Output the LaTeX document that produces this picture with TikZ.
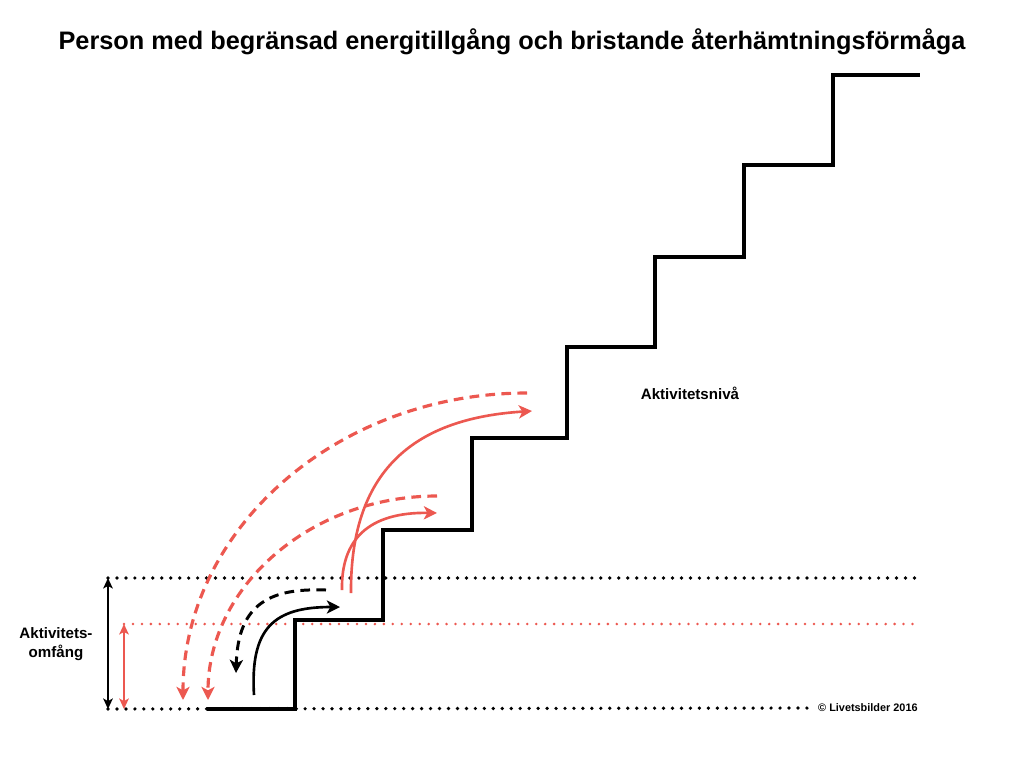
\documentclass[tikz,border=0pt]{standalone}
\usepackage{fontspec}
\setmainfont{Liberation Sans}
\usetikzlibrary{arrows.meta}
\definecolor{coral}{RGB}{236,88,80}

\begin{document}
\begin{tikzpicture}[
    x=0.02cm, y=-0.02cm,
    stair/.style={line width=2.4pt, line join=miter},
    level/.style={line width=2.1pt, line cap=round, dash pattern=on 0pt off 5.1pt},
    redlevel/.style={coral, line width=1.6pt, line cap=round, dash pattern=on 0pt off 5.1pt},
    span/.style={line width=0.9pt, {Stealth[length=6pt,width=5.5pt,inset=1.5pt]}-{Stealth[length=6pt,width=5.5pt,inset=1.5pt]}},
    move/.style={line width=1.5pt, -{Stealth[length=7.5pt,width=7.5pt,inset=2pt]}},
    redmove/.style={coral, line width=1.5pt, -{Stealth[length=7.5pt,width=7.5pt,inset=2pt]}},
    back/.style={dash pattern=on 5.5pt off 3.6pt},
    label/.style={font=\bfseries\fontsize{8.6}{11}\selectfont, align=center}
]
\useasboundingbox (0,0) rectangle (1024,768);

\node[font=\bfseries\fontsize{14.4}{17}\selectfont] (title) at (512,42)
    {Person med begränsad energitillgång och bristande återhämtningsförmåga};

% activity range
\coordinate (top) at (108,578);
\coordinate (redtop) at (124,624);
\coordinate (base) at (108,709);
\coordinate (redbase) at (124,709);
\node[font=\bfseries\fontsize{6.2}{8}\selectfont, anchor=west] (copy) at (812,708)
    {© Livetsbilder 2016};

\draw[level] (top) -- (920,578);
\draw[redlevel] (redtop) -- (920,624);
\draw[level] (base) -- (copy.west);

\draw[span] (top) -- (base);
\draw[coral, span] (redtop) -- (redbase);

\node[label] (range) at (56,644) {Aktivitets-\\omfång};
\node[label] (nivaa) at (690,393) {Aktivitetsnivå};

% stairs
\draw[stair] (207,709) -- (295,709) -- (295,620) -- (383,620) -- (383,530)
    -- (472,530) -- (472,438) -- (567,438) -- (567,347) -- (655,347)
    -- (655,257) -- (744,257) -- (744,165) -- (833,165) -- (833,75) -- (920,75);

% attempts
\coordinate (b1) at (254,695);
\coordinate (b2) at (340,607);
\coordinate (b3) at (326,590);
\coordinate (b4) at (236,673);
\coordinate (r1) at (342,590);
\coordinate (r2) at (437,513);
\coordinate (r3) at (351,593);
\coordinate (r4) at (532,411);
\coordinate (d1) at (527,393);
\coordinate (d2) at (183,700);
\coordinate (d3) at (437,496);
\coordinate (d4) at (208,700);

\draw[move] (b1) .. controls (250,628) and (274,607) .. (b2);
\draw[move, back, line width=1.7pt] (b3) .. controls (272,588) and (238,602) .. (b4);
\draw[redmove] (r1) .. controls (341,540) and (368,512) .. (r2);
\draw[redmove] (r3) .. controls (350,465) and (420,418) .. (r4);
\draw[redmove, back, line width=1.8pt] (d1) .. controls (337,393) and (183,529) .. (d2);
\draw[redmove, back, line width=1.8pt] (d3) .. controls (311,496) and (208,586) .. (d4);

\end{tikzpicture}
\end{document}
